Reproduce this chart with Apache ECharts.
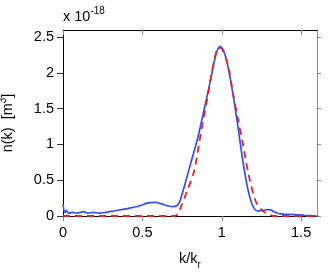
<!DOCTYPE html>
<html><head><meta charset="utf-8">
<script src="https://cdn.jsdelivr.net/npm/echarts@6/dist/echarts.min.js"></script>
<style>html,body{margin:0;padding:0;background:#fff}#c{width:328px;height:273px}</style>
</head><body><div id="c"></div>
<script>
// values in units of 1e-18 m^3
var measuredK = [0,0.012,0.022,0.035,0.06,0.09,0.13,0.16,0.19,0.23,0.27,0.32,0.37,0.42,0.48,0.53,0.58,0.62,0.66,0.70,0.73,0.76,0.79,0.82,0.85,0.88,0.91,0.94,0.965,0.99,1.01,1.036,1.068,1.10,1.13,1.163,1.194,1.226,1.26,1.30,1.34,1.37,1.46,1.52,1.6];
var measuredN = [0.17,0.05,0.08,0.04,0.05,0.04,0.06,0.04,0.05,0.04,0.05,0.07,0.09,0.11,0.14,0.18,0.19,0.17,0.14,0.13,0.18,0.38,0.62,0.86,1.10,1.40,1.70,2.02,2.27,2.37,2.32,2.12,1.74,1.28,0.81,0.39,0.15,0.07,0.08,0.09,0.05,0.03,0.02,0.01,0.0];
var fitK = [0,0.35,0.70,0.72,0.74,0.78,0.825,0.87,0.91,0.95,0.98,1.00,1.04,1.07,1.10,1.13,1.17,1.215,1.25,1.28,1.33,1.6];
var fitN = [0,0,0,0.02,0.11,0.34,0.62,1.18,1.65,2.15,2.35,2.34,2.10,1.72,1.38,1.04,0.57,0.20,0.09,0.04,0,0];
var xTicks = [0,0.5,1,1.5];
var yTicks = [0,0.5,1,1.5,2,2.5];
var xTickLabels = ['0','0.5','1','1.5'];
var yTickLabels = ['0','0.5','1','1.5','2','2.5'];

function pairs(a,b){return a.map(function(v,i){return [v,b[i]];});}
var font = 'Liberation Sans';
var fs = 14.5;
var chart = echarts.init(document.getElementById('c'));
chart.setOption({
  animation:false,
  grid:{left:63,right:11,top:30,bottom:57,outerBoundsMode:'none',containLabel:false},
  xAxis:[{
    type:'value',min:0,max:1.6,position:'bottom',
    name:'{a|k/k}{s|r}',nameLocation:'middle',nameGap:31,
    nameTextStyle:{rich:{a:{fontFamily:font,fontSize:fs,color:'#000'},s:{fontFamily:font,fontSize:10,color:'#000',padding:[13,0,0,0]}}},
    axisLine:{onZero:false,lineStyle:{color:'#000',width:1}},
    axisTick:{show:true,length:5,inside:false,lineStyle:{color:'#888'},customValues:xTicks},
    axisLabel:{customValues:xTicks,formatter:function(v){var i=xTicks.indexOf(v);return i>=0?xTickLabels[i]:'';},fontFamily:font,fontSize:fs,color:'#000',margin:9},
    splitLine:{show:false}
  },{
    type:'value',min:0,max:1.6,position:'top',
    axisLine:{show:true,onZero:false,lineStyle:{color:'#000',width:1}},
    axisTick:{show:true,inside:true,length:5,lineStyle:{color:'#888'},customValues:xTicks},
    axisLabel:{show:false},splitLine:{show:false}
  }],
  yAxis:[{
    type:'value',min:0,max:2.6,position:'left',
    name:'{a|n(k)  [m}{s|3}{a|]}',nameLocation:'middle',nameGap:46,nameRotate:90,
    nameTextStyle:{rich:{a:{fontFamily:font,fontSize:fs,color:'#000'},s:{fontFamily:font,fontSize:10,color:'#000',padding:[0,0,9,0]}}},
    axisLine:{show:true,onZero:false,lineStyle:{color:'#000',width:1}},
    axisTick:{show:true,length:6,inside:false,lineStyle:{color:'#333'},customValues:yTicks},
    axisLabel:{customValues:yTicks,formatter:function(v){var i=yTicks.indexOf(v);return i>=0?yTickLabels[i]:'';},fontFamily:font,fontSize:fs,color:'#000',margin:9},
    splitLine:{show:false}
  },{
    type:'value',min:0,max:2.6,position:'right',
    axisLine:{show:true,onZero:false,lineStyle:{color:'#888',width:1}},
    axisTick:{show:true,inside:false,length:4,lineStyle:{color:'#888'},customValues:yTicks},
    axisLabel:{show:false},splitLine:{show:false}
  }],
  graphic:[{
    type:'text',left:63,top:6,
    style:{text:'{a|x 10}{s|-18}',rich:{a:{fontFamily:font,fontSize:fs,fill:'#000'},s:{fontFamily:font,fontSize:10,fill:'#000',padding:[0,0,11,0]}}}
  }],
  series:[{
    type:'line',xAxisIndex:0,yAxisIndex:0,data:pairs(measuredK,measuredN),smooth:0.3,showSymbol:false,
    lineStyle:{color:'#3050f0',width:1.7},z:2
  },{
    type:'line',xAxisIndex:0,yAxisIndex:0,data:pairs(fitK,fitN),smooth:0.3,showSymbol:false,
    lineStyle:{color:'#f02020',width:1.8,type:[7,5]},z:3
  }]
});
</script></body></html>
